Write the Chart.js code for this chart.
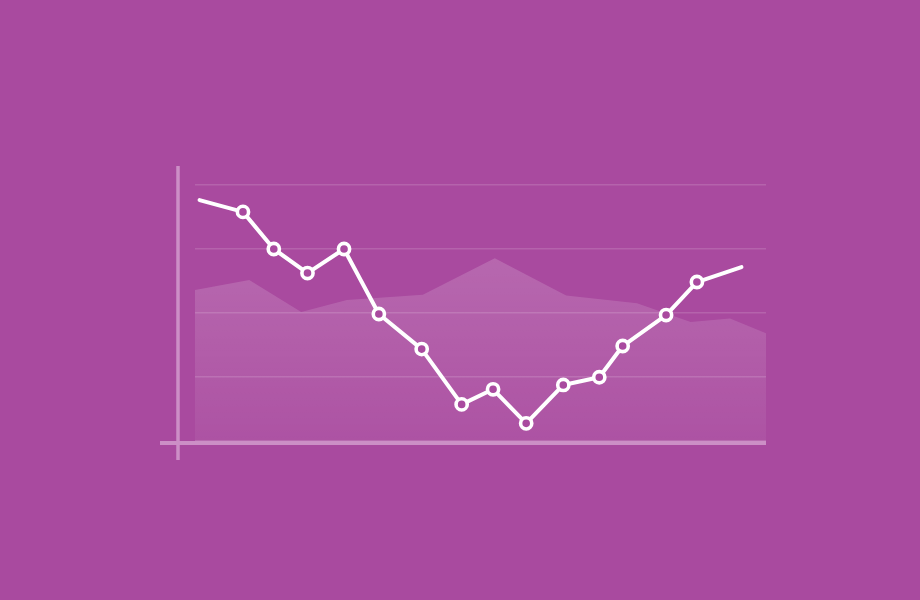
<!DOCTYPE html>
<html>
<head>
<meta charset="utf-8">
<script src="https://cdn.jsdelivr.net/npm/chart.js@4/dist/chart.umd.min.js"></script>
<style>
  html, body { margin: 0; padding: 0; background: #a94a9f; }
  canvas { display: block; }
</style>
</head>
<body>
<canvas id="trend-chart" width="920" height="600"></canvas>
<script>
// line series (x position on a 0-100 track, value on a 0-100 scale)
const lineX = [0.8, 8.4, 13.8, 19.7, 26.1, 32.2, 39.7, 46.7, 52.2, 58.0, 64.5, 70.8, 74.9, 82.5, 87.9, 95.7];
const lineY = [94.1, 89.5, 75.0, 65.6, 75.0, 49.6, 35.9, 14.3, 20.2, 6.9, 21.9, 24.9, 37.1, 49.2, 62.1, 67.9];

// background area series
const areaX = [0, 9.5, 18.6, 26.6, 39.9, 52.5, 65.0, 77.4, 86.8, 93.7, 100];
const areaY = [59.0, 62.9, 50.4, 55.1, 57.1, 71.4, 56.8, 53.8, 46.5, 47.9, 42.1];

const yTicks = [0, 25, 50, 75, 100];

const toPoints = (xs, ys) => xs.map((x, i) => ({ x: x, y: ys[i] }));

// markers on every point except the two ends
const markerRadius = lineX.map((_, i) => (i === 0 || i === lineX.length - 1) ? 0 : 5.6);

// the two axis lines stick out past the plot area
const axisLines = {
  id: 'axisLines',
  afterDatasetsDraw(chart) {
    const { ctx, chartArea } = chart;
    ctx.save();
    ctx.strokeStyle = '#cc8fc6';
    ctx.lineWidth = 3.5;
    ctx.beginPath();
    ctx.moveTo(chartArea.left - 17, chartArea.top - 19);
    ctx.lineTo(chartArea.left - 17, chartArea.bottom + 19);
    ctx.stroke();
    ctx.lineWidth = 4;
    ctx.beginPath();
    ctx.moveTo(chartArea.left - 35, chartArea.bottom + 2);
    ctx.lineTo(chartArea.right, chartArea.bottom + 2);
    ctx.stroke();
    ctx.restore();
  }
};

new Chart(document.getElementById('trend-chart').getContext('2d'), {
  type: 'line',
  data: {
    datasets: [
      {
        data: toPoints(lineX, lineY),
        borderColor: '#ffffff',
        borderWidth: 4,
        borderCapStyle: 'round',
        borderJoinStyle: 'round',
        pointRadius: markerRadius,
        pointHoverRadius: markerRadius,
        pointBorderWidth: 3.6,
        pointBorderColor: '#ffffff',
        pointBackgroundColor: '#a94a9f',
        tension: 0,
        fill: false,
        order: 0
      },
      {
        data: toPoints(areaX, areaY),
        borderWidth: 0,
        pointRadius: 0,
        tension: 0,
        fill: 'start',
        backgroundColor: (context) => {
          const area = context.chart.chartArea;
          if (!area) return 'rgba(255,255,255,0.12)';
          const g = context.chart.ctx.createLinearGradient(0, area.top + 70, 0, area.bottom);
          g.addColorStop(0, 'rgba(255,255,255,0.17)');
          g.addColorStop(1, 'rgba(255,255,255,0.05)');
          return g;
        },
        order: 1
      }
    ]
  },
  options: {
    responsive: false,
    animation: false,
    layout: { padding: { left: 195, right: 154, top: 185, bottom: 159 } },
    plugins: {
      legend: { display: false },
      tooltip: { enabled: false }
    },
    scales: {
      x: {
        type: 'linear',
        min: 0,
        max: 100,
        display: false
      },
      y: {
        min: yTicks[0],
        max: yTicks[yTicks.length - 1],
        afterBuildTicks: (scale) => { scale.ticks = yTicks.map(v => ({ value: v })); },
        ticks: { display: false },
        border: { display: false },
        grid: {
          color: 'rgba(255,255,255,0.14)',
          lineWidth: 1.5,
          drawTicks: false
        }
      }
    }
  },
  plugins: [axisLines]
});
</script>
</body>
</html>
